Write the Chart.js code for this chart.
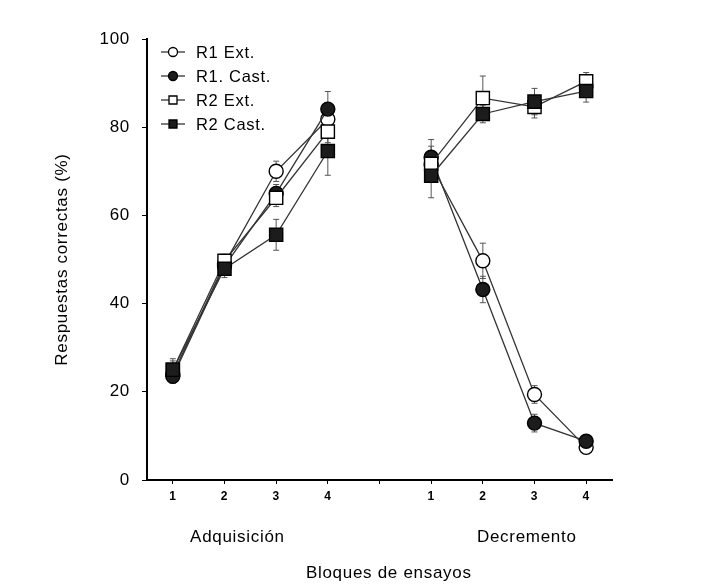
<!DOCTYPE html>
<html><head><meta charset="utf-8">
<script src="https://cdn.jsdelivr.net/npm/chart.js@4"></script>
<style>html,body{margin:0;padding:0;background:#fff}</style>
</head><body>
<canvas id="c" width="714" height="586"></canvas>
<script>
// ---- data ----
const blockLabels = ['1', '2', '3', '4'];
const phaseLabels = ['Adquisición', 'Decremento'];
const seriesNames = ['R1 Ext.', 'R1. Cast.', 'R2 Ext.', 'R2 Cast.'];
const yTicks = [0, 20, 40, 60, 80, 100];
const xTitle = 'Bloques de ensayos';
const yTitle = 'Respuestas correctas (%)';

const r1ExtAdq  = [24.0, 49.0, 70.0, 81.8];
const r1ExtDec  = [71.5, 49.7, 19.4, 7.4];
const r1CastAdq = [23.5, 48.5, 65.0, 84.1];
const r1CastDec = [73.2, 43.2, 12.9, 8.8];
const r2ExtAdq  = [25.0, 49.7, 64.0, 79.0];
const r2ExtDec  = [71.7, 86.6, 84.6, 90.4];
const r2CastAdq = [25.0, 47.9, 55.6, 74.6];
const r2CastDec = [69.0, 83.0, 85.8, 88.2];

const r1ExtAdqErr  = [2.0, 1.5, 2.3, 2.0];
const r1ExtDecErr  = [3.0, 4.0, 2.0, 1.0];
const r1CastAdqErr = [1.5, 1.5, 2.0, 4.0];
const r1CastDecErr = [4.0, 3.0, 2.0, 1.0];
const r2ExtAdqErr  = [2.0, 1.5, 2.0, 2.5];
const r2ExtDecErr  = [4.0, 5.0, 2.5, 2.0];
const r2CastAdqErr = [2.5, 2.0, 3.5, 5.5];
const r2CastDecErr = [5.0, 2.0, 3.0, 2.5];

// ---- build ----
const xTickLabels = [...blockLabels, '', ...blockLabels];
function build(adq, dec) {
  return [
    ...adq.map((v, i) => ({x: i + 1, y: v})),
    {x: blockLabels.length + 1, y: null},
    ...dec.map((v, i) => ({x: i + blockLabels.length + 2, y: v}))
  ];
}
function buildErr(adq, dec) { return [...adq, null, ...dec]; }

const FONT = "'Liberation Sans', Arial, sans-serif";
const DARK = '#1c1c1c';
const LINE = '#333333';
const SPACING = '0.7px';

const datasets = [
  {label: seriesNames[0], data: build(r1ExtAdq, r1ExtDec), err: buildErr(r1ExtAdqErr, r1ExtDecErr),
   pointStyle: 'circle', pointRadius: 7, pointBackgroundColor: '#ffffff', order: 4},
  {label: seriesNames[1], data: build(r1CastAdq, r1CastDec), err: buildErr(r1CastAdqErr, r1CastDecErr),
   pointStyle: 'circle', pointRadius: 7, pointBackgroundColor: DARK, order: 3},
  {label: seriesNames[2], data: build(r2ExtAdq, r2ExtDec), err: buildErr(r2ExtAdqErr, r2ExtDecErr),
   pointStyle: 'rect', pointRadius: 9.3, pointBackgroundColor: '#ffffff', order: 2},
  {label: seriesNames[3], data: build(r2CastAdq, r2CastDec), err: buildErr(r2CastAdqErr, r2CastDecErr),
   pointStyle: 'rect', pointRadius: 9.3, pointBackgroundColor: DARK, order: 1}
].map(d => Object.assign({
  borderColor: LINE, borderWidth: 1.3, pointBorderColor: '#000', pointBorderWidth: 1.4,
  spanGaps: false, fill: false, tension: 0
}, d));

const errorBars = {
  id: 'errorBars',
  beforeDraw(chart) { chart.ctx.letterSpacing = SPACING; },
  beforeDatasetsDraw(chart) {
    const ctx = chart.ctx, ys = chart.scales.y;
    ctx.save();
    ctx.strokeStyle = '#555';
    ctx.lineWidth = 1;
    chart.data.datasets.forEach((ds, di) => {
      const meta = chart.getDatasetMeta(di);
      ds.data.forEach((p, i) => {
        if (p.y == null || ds.err[i] == null) return;
        const x = meta.data[i].x;
        const yt = ys.getPixelForValue(p.y + ds.err[i]);
        const yb = ys.getPixelForValue(p.y - ds.err[i]);
        ctx.beginPath();
        ctx.moveTo(x, yt); ctx.lineTo(x, yb);
        ctx.moveTo(x - 3, yt); ctx.lineTo(x + 3, yt);
        ctx.moveTo(x - 3, yb); ctx.lineTo(x + 3, yb);
        ctx.stroke();
      });
    });
    ctx.restore();
  }
};

function drawMarker(ctx, style, x, y, r, fill) {
  ctx.beginPath();
  if (style === 'circle') ctx.arc(x, y, r, 0, Math.PI * 2);
  else ctx.rect(x - r, y - r, 2 * r, 2 * r);
  ctx.fillStyle = fill; ctx.fill();
  ctx.strokeStyle = '#000'; ctx.lineWidth = 1.3; ctx.stroke();
}

const extras = {
  id: 'extras',
  afterDraw(chart) {
    const ctx = chart.ctx, xs = chart.scales.x;
    ctx.save();
    ctx.letterSpacing = SPACING;
    // legend
    const rows = [52, 76, 100, 124];
    chart.data.datasets.forEach((ds, i) => {
      const y = rows[i];
      ctx.strokeStyle = LINE; ctx.lineWidth = 1.3;
      ctx.beginPath(); ctx.moveTo(161, y); ctx.lineTo(185, y); ctx.stroke();
      drawMarker(ctx, ds.pointStyle, 173, y, ds.pointStyle === 'circle' ? 4.5 : 4, ds.pointBackgroundColor);
      ctx.fillStyle = '#000';
      ctx.font = '16.5px ' + FONT;
      ctx.textAlign = 'left'; ctx.textBaseline = 'middle';
      ctx.fillText(ds.label, 196, y + 1);
    });
    // group labels and axis title
    ctx.fillStyle = '#000';
    ctx.font = '17px ' + FONT;
    ctx.textAlign = 'center'; ctx.textBaseline = 'middle';
    ctx.fillText(phaseLabels[0], xs.getPixelForValue(2.25), 537);
    ctx.fillText(phaseLabels[1], xs.getPixelForValue(7.85), 537);
    ctx.fillText(xTitle, xs.getPixelForValue(5.18), 573);
    ctx.restore();
  }
};

new Chart(document.getElementById('c'), {
  type: 'line',
  data: {datasets},
  options: {
    responsive: false,
    devicePixelRatio: 1,
    animation: false,
    layout: {padding: {left: 0, right: 102, top: 39, bottom: 0}},
    plugins: {legend: {display: false}, tooltip: {enabled: false}},
    scales: {
      x: {
        type: 'linear', min: 0.5, max: 9.5,
        afterBuildTicks: s => { s.ticks = xTickLabels.map((_, i) => ({value: i + 1})); },
        afterFit: s => { s.height = 106; },
        grid: {display: true, drawOnChartArea: false, tickLength: 4, color: '#000', lineWidth: 1},
        border: {display: true, color: '#000', width: 2},
        ticks: {
          autoSkip: false, maxRotation: 0, padding: 5, color: '#000',
          font: {family: FONT, size: 12, weight: 'bold'},
          callback: (v, i) => xTickLabels[i]
        }
      },
      y: {
        min: 0, max: 100,
        afterBuildTicks: s => { s.ticks = yTicks.map(v => ({value: v})); },
        afterFit: s => { s.width = 147; },
        grid: {display: true, drawOnChartArea: false, tickLength: 5, color: '#000', lineWidth: 1},
        border: {display: true, color: '#000', width: 2},
        ticks: {padding: 12, color: '#000', font: {family: FONT, size: 17}},
        title: {display: true, text: yTitle, color: '#000', font: {family: FONT, size: 17}, padding: {top: 52, bottom: 0}}
      }
    }
  },
  plugins: [errorBars, extras]
});
</script>
</body></html>
